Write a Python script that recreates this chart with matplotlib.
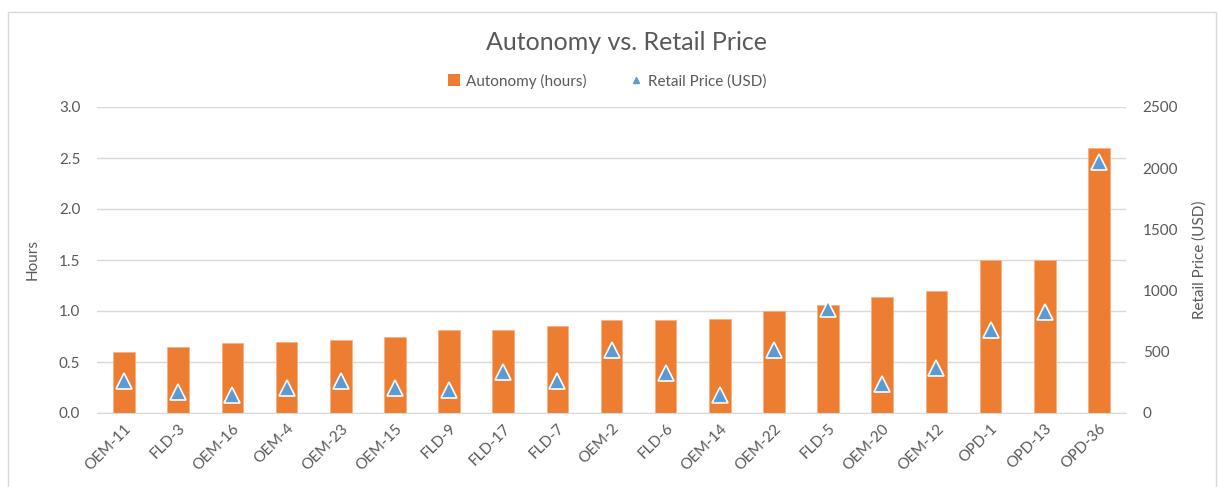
import matplotlib
matplotlib.use("Agg")
import matplotlib.pyplot as plt
from matplotlib.patches import Rectangle
from matplotlib.lines import Line2D
import numpy as np

plt.rcParams['font.family'] = ['Lato', 'DejaVu Sans']

categories = ["OEM-11", "FLD-3", "OEM-16", "OEM-4", "OEM-23", "OEM-15", "FLD-9",
              "FLD-17", "FLD-7", "OEM-2", "FLD-6", "OEM-14", "OEM-22", "FLD-5",
              "OEM-20", "OEM-12", "OPD-1", "OPD-13", "OPD-36"]
autonomy_hours = [0.60, 0.65, 0.69, 0.70, 0.72, 0.75, 0.81, 0.81, 0.85, 0.91,
                  0.91, 0.92, 1.00, 1.06, 1.14, 1.20, 1.50, 1.50, 2.60]
retail_price_usd = [265, 175, 145, 205, 260, 205, 188, 335, 262, 518,
                    325, 145, 518, 850, 240, 365, 675, 825, 2050]

ORANGE = "#ED7D31"
BLUE = "#5B9BD5"
TEXT = "#595959"
GRID = "#D9D9D9"

W, H = 1219, 487
fig = plt.figure(figsize=(W / 100, H / 100), dpi=100)

# outer chart border
fig.add_artist(Rectangle((8 / W, -0.05), (1216 - 8) / W, 1.05 - 12 / H,
                         transform=fig.transFigure, fill=False,
                         edgecolor=GRID, linewidth=1))

left, right, top, bottom = 97, 1126, 107, 413
ax = fig.add_axes([left / W, 1 - bottom / H, (right - left) / W, (bottom - top) / H])
ax2 = ax.twinx()

x = np.arange(len(categories))
ax.bar(x, autonomy_hours, width=0.4, color=ORANGE, edgecolor="#F4B183",
       linewidth=0.6, zorder=2)
ax2.plot(x, retail_price_usd, linestyle="none", marker="^", markersize=11,
         markerfacecolor=BLUE, markeredgecolor="white", markeredgewidth=1.2,
         zorder=3)

ax.set_xlim(-0.5, len(categories) - 0.5)
ax.set_ylim(0, 3.0)
ax.set_yticks(np.arange(0, 3.01, 0.5))
ax.set_yticklabels([f"{v:.1f}" for v in np.arange(0, 3.01, 0.5)])
ax2.set_ylim(0, 2500)
ax2.set_yticks(np.arange(0, 2501, 500))

ax.yaxis.grid(True, color=GRID, linewidth=1)
ax.set_axisbelow(True)
for a in (ax, ax2):
    for s in a.spines.values():
        s.set_visible(False)
    a.tick_params(length=0, colors=TEXT, labelsize=11)
ax.spines['bottom'].set_visible(True)
ax.spines['bottom'].set_color(GRID)
ax.tick_params(axis='y', pad=12)
ax2.tick_params(axis='y', pad=12)

ax.set_xticks(x)
ax.set_xticklabels(categories, rotation=45, ha="right", rotation_mode="anchor")
ax.tick_params(axis='x', pad=6)

ax.set_ylabel("Hours", color=TEXT, fontsize=11, labelpad=14)
ax2.set_ylabel("Retail Price (USD)", color=TEXT, fontsize=11, labelpad=10)

fig.text(627 / W, 1 - 43 / H, "Autonomy vs. Retail Price", ha="center", va="center",
         fontsize=18, color=TEXT)

handles = [Rectangle((0, 0), 1, 1, facecolor=ORANGE, edgecolor="none"),
           Line2D([], [], linestyle="none", marker="^", markersize=5,
                  markerfacecolor=BLUE, markeredgecolor=BLUE)]
fig.legend(handles, ["Autonomy (hours)", "Retail Price (USD)"],
           loc="center", bbox_to_anchor=(607 / W, 1 - 81 / H), ncol=2, frameon=False,
           fontsize=11, labelcolor=TEXT, handlelength=0.8, handleheight=0.8,
           handletextpad=0.4, columnspacing=2.8)

fig.savefig("out.png", dpi=100, facecolor="white")
